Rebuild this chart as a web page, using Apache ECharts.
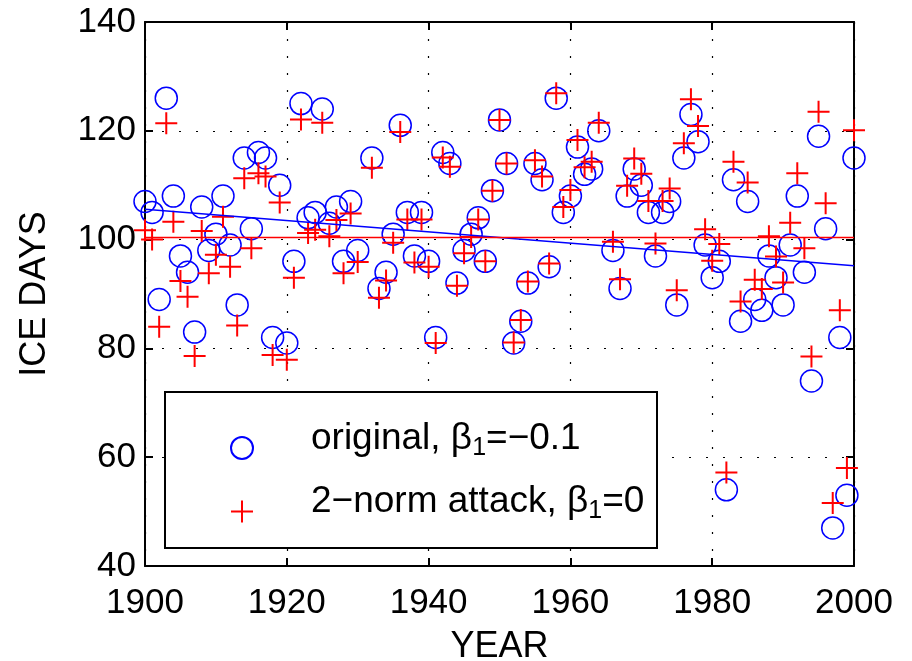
<!DOCTYPE html>
<html>
<head>
<meta charset="utf-8">
<script src="https://cdn.jsdelivr.net/npm/echarts@6/dist/echarts.min.js"></script>
<style>
html,body{margin:0;padding:0;background:#fff;}
#chart{width:912px;height:661px;}
</style>
</head>
<body>
<div id="chart"></div>
<script>
const years = [1900,1901,1902,1903,1904,1905,1906,1907,1908,1909,
1910,1911,1912,1913,1914,1915,1916,1917,1918,1919,
1920,1921,1922,1923,1924,1925,1926,1927,1928,1929,
1930,1931,1932,1933,1934,1935,1936,1937,1938,1939,
1940,1941,1942,1943,1944,1945,1946,1947,1948,1949,
1950,1951,1952,1953,1954,1955,1956,1957,1958,1959,
1960,1961,1962,1963,1964,1965,1966,1967,1968,1969,
1970,1971,1972,1973,1974,1975,1976,1977,1978,1979,
1980,1981,1982,1983,1984,1985,1986,1987,1988,1989,
1990,1991,1992,1993,1994,1995,1996,1997,1998,1999,2000];

const originalDays = [107,105,89,126,108,97,94,83,106,98,
101,108,99,88,115,102,116,115,82,110,
81,96,125,104,105,124,103,106,96,107,
98,61,115,91,94,101,121,105,97,105,
96,82,116,114,92,98,101,104,96,109,
122,114,81,85,92,114,111,95,126,105,
108,117,112,113,120,66,98,91,108,113,
110,105,97,105,107,88,115,123,118,99,
93,96,54,111,85,107,89,87,97,93,
88,99,108,94,74,119,102,47,82,53,115];

const attackDays = [101.7,100.0,84.0,121.4,103.3,92.4,89.5,78.6,101.6,93.8,
97.2,104.2,95.0,84.2,111.3,98.4,112.2,111.6,78.8,106.8,
77.9,93.0,122.1,101.2,101.8,121.5,100.6,103.6,93.8,104.8,
95.9,58.5,113.2,89.3,92.5,99.4,119.8,103.7,95.8,103.7,
95.0,81.0,115.1,113.4,91.5,97.5,100.5,103.7,96.0,109.0,
122.0,114.0,81.1,85.2,92.3,114.6,111.6,95.6,126.9,106.0,
109.1,118.3,113.3,114.3,121.5,66.8,99.6,92.7,109.9,114.9,
112.1,107.1,99.3,107.1,109.4,90.7,117.7,125.8,120.9,101.9,
96.1,99.2,57.2,114.3,88.6,110.5,92.6,90.9,100.6,96.9,
92.1,103.1,112.2,98.4,78.5,123.5,106.7,51.6,87.0,58.0,120.1];

// fitted lines: value at 1900 and slope per year
const fitYears = [1900, 2000];
const originalFit = {intercept: 105.6, slope: -0.104};
const attackFit = {intercept: 100.4, slope: 0};

const xTicks = {min: 1900, max: 2000, step: 20};
const yTicks = {min: 40, max: 140, step: 20};
const xName = 'YEAR';
const yName = 'ICE DAYS';
const legendLabels = {
  original: '{t|original, β}{s|1}{t|=−0.1}',
  attack: '{t|2−norm attack, β}{s|1}{t|=0}'
};

const FONT = 'Liberation Sans, Arial, Helvetica, sans-serif';
const pairs = (xs, ys) => xs.map((x, i) => [x, ys[i]]);
const fitLine = f => fitYears.map(y => [y, f.intercept + f.slope * (y - fitYears[0])]);

const axisLine = {show: true, lineStyle: {color: '#000', width: 2}};
const tick = {show: true, inside: true, length: 8, lineStyle: {color: '#000', width: 2}};
const split = {show: true, lineStyle: {color: '#000', width: 1.2, type: [2, 15]}};

const chart = echarts.init(document.getElementById('chart'), null, {renderer: 'canvas'});
chart.setOption({
  animation: false,
  backgroundColor: '#fff',
  grid: {left: 145, right: 58, top: 22, bottom: 95, containLabel: false, outerBoundsMode: 'none'},
  xAxis: [{
    type: 'value', min: xTicks.min, max: xTicks.max, interval: xTicks.step, position: 'bottom',
    axisLine, axisTick: tick, splitLine: split,
    axisLabel: {fontSize: 35, color: '#000', margin: 20, fontFamily: FONT, formatter: v => String(v)},
    name: xName, nameLocation: 'middle', nameGap: 63,
    nameTextStyle: {fontSize: 36, color: '#000', fontFamily: FONT}
  }, {
    type: 'value', min: xTicks.min, max: xTicks.max, interval: xTicks.step, position: 'top',
    axisLine, axisTick: tick, splitLine: {show: false}, axisLabel: {show: false}
  }],
  yAxis: [{
    type: 'value', min: yTicks.min, max: yTicks.max, interval: yTicks.step, position: 'left',
    axisLine, axisTick: tick, splitLine: split,
    axisLabel: {fontSize: 35, color: '#000', margin: 9, fontFamily: FONT, formatter: v => String(v)},
    name: yName, nameLocation: 'middle', nameGap: 92, nameRotate: 90,
    nameTextStyle: {fontSize: 36, color: '#000', fontFamily: FONT}
  }, {
    type: 'value', min: yTicks.min, max: yTicks.max, interval: yTicks.step, position: 'right',
    axisLine, axisTick: tick, splitLine: {show: false}, axisLabel: {show: false}
  }],
  legend: {
    orient: 'vertical', left: 230, top: 392, padding: [28, 0, 10, 0],
    itemWidth: 128, itemHeight: 22, itemGap: 23, z: 10,
    data: ['original', 'attack'],
    formatter: n => legendLabels[n],
    selectedMode: false,
    textStyle: {
      color: '#000', fontFamily: FONT, fontSize: 37,
      rich: {
        t: {fontSize: 37, fontFamily: FONT, color: '#000', lineHeight: 38, verticalAlign: 'top'},
        s: {fontSize: 25, fontFamily: FONT, color: '#000', lineHeight: 56, verticalAlign: 'middle'}
      }
    }
  },
  graphic: [{
    type: 'rect', z: 5,
    shape: {x: 165, y: 392, width: 492, height: 156},
    style: {fill: '#fff', stroke: '#000', lineWidth: 2}
  }],
  series: [{
    name: 'original', type: 'scatter', symbol: 'circle', symbolSize: 22,
    itemStyle: {color: 'rgba(0,0,0,0)', borderColor: '#0000ff', borderWidth: 1.5, opacity: 1},
    data: pairs(years, originalDays), z: 2
  }, {
    name: 'attack', type: 'scatter', symbol: 'path://M0,11L22,11M11,0L11,22', symbolSize: 22,
    itemStyle: {color: 'rgba(0,0,0,0)', borderColor: '#ff0000', borderWidth: 2, opacity: 1},
    data: pairs(years, attackDays), z: 3
  }, {
    name: 'originalFit', type: 'line', symbol: 'none', silent: true,
    lineStyle: {color: '#0000ff', width: 1.5}, data: fitLine(originalFit), z: 4
  }, {
    name: 'attackFit', type: 'line', symbol: 'none', silent: true,
    lineStyle: {color: '#ff0000', width: 1.5}, data: fitLine(attackFit), z: 4
  }]
});
</script>
</body>
</html>
